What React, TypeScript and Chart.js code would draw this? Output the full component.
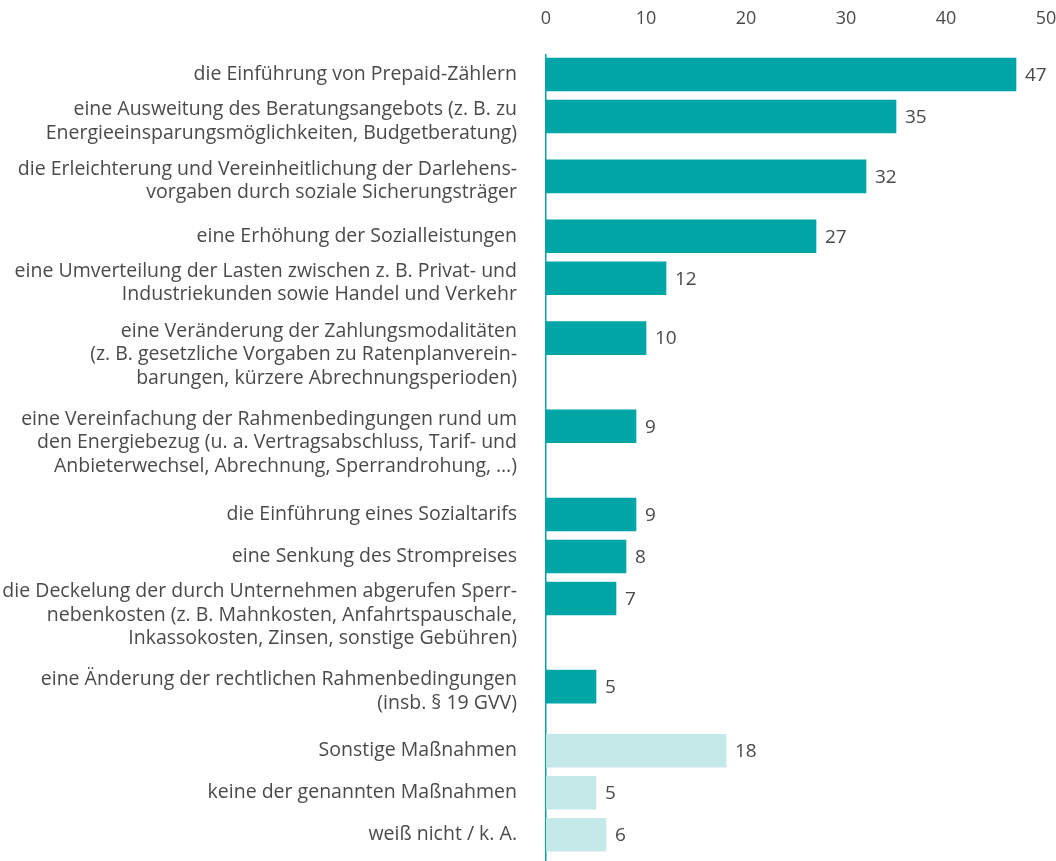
import React, { useEffect, useRef } from "react";
import { Chart, registerables } from "chart.js";

Chart.register(...registerables);

const categories: string[][] = [
  ["die Einführung von Prepaid-Zählern"],
  ["eine Ausweitung des Beratungsangebots (z. B. zu", "Energieeinsparungsmöglichkeiten, Budgetberatung)"],
  ["die Erleichterung und Vereinheitlichung der Darlehens-", "vorgaben durch soziale Sicherungsträger"],
  ["eine Erhöhung der Sozialleistungen"],
  ["eine Umverteilung der Lasten zwischen z. B. Privat- und", "Industriekunden sowie Handel und Verkehr"],
  ["eine Veränderung der Zahlungsmodalitäten", "(z. B. gesetzliche Vorgaben zu Ratenplanverein-", "barungen, kürzere Abrechnungsperioden)"],
  ["eine Vereinfachung der Rahmenbedingungen rund um", "den Energiebezug (u. a. Vertragsabschluss, Tarif- und", "Anbieterwechsel, Abrechnung, Sperrandrohung, …)"],
  ["die Einführung eines Sozialtarifs"],
  ["eine Senkung des Strompreises"],
  ["die Deckelung der durch Unternehmen abgerufen Sperr-", "nebenkosten (z. B. Mahnkosten, Anfahrtspauschale,", "Inkassokosten, Zinsen, sonstige Gebühren)"],
  ["eine Änderung der rechtlichen Rahmenbedingungen", "(insb. § 19 GVV)"],
  ["Sonstige Maßnahmen"],
  ["keine der genannten Maßnahmen"],
  ["weiß nicht / k. A."],
];

const values: number[] = [47, 35, 32, 27, 12, 10, 9, 9, 8, 7, 5, 18, 5, 6];

// group: 0 = concrete measures (dark), 1 = other answers (light)
const groups: number[] = [0, 0, 0, 0, 0, 0, 0, 0, 0, 0, 0, 1, 1, 1];

const xTicks: number[] = [0, 10, 20, 30, 40, 50];

const DARK = "#00a5a5";
const LIGHT = "#c5e8e9";
const TEXT = "#4a4a4a";
const FONT = "'Open Sans', sans-serif";

// row layout derived from label line counts (in y-scale units)
const rowWeight = (lines: number) => (lines === 1 ? 2 : lines === 2 ? 2.85 : 4.2);
const GROUP_GAP = 0.2;
const rowPos: number[] = [];
{
  let p = 0;
  categories.forEach((c, i) => {
    rowPos.push(p);
    p += rowWeight(c.length);
    if (i + 1 < groups.length && groups[i + 1] !== groups[i]) p += GROUP_GAP;
  });
}
const labelPos = rowPos.map((p, i) => {
  const l = categories[i].length;
  return l === 1 ? p : p + ((l - 1) * 11.75 - 7) / 21;
});

export default function App() {
  const ref = useRef<HTMLCanvasElement>(null);
  useEffect(() => {
    if (!ref.current) return;
    const valueLabels = {
      id: "valueLabels",
      afterDatasetsDraw(chart: any) {
        const ctx = chart.ctx;
        const meta = chart.getDatasetMeta(0);
        ctx.save();
        ctx.font = `19px ${FONT}`;
        ctx.fillStyle = TEXT;
        ctx.textAlign = "left";
        ctx.textBaseline = "middle";
        meta.data.forEach((bar: any, i: number) => {
          ctx.fillText(String(values[i]), bar.x + 9, bar.y + 1);
        });
        ctx.restore();
      },
    };
    const chart = new Chart(ref.current, {
      type: "bar",
      data: {
        datasets: [
          {
            data: values.map((v, i) => ({ x: v, y: rowPos[i] })),
            backgroundColor: groups.map((g) => (g === 0 ? DARK : LIGHT)),
            barThickness: 33,
            borderWidth: 0,
          },
        ],
      },
      options: {
        indexAxis: "y",
        animation: false,
        responsive: false,
        layout: { padding: { top: 8, right: 10, left: 0, bottom: 0 } },
        plugins: { legend: { display: false }, tooltip: { enabled: false } },
        scales: {
          x: {
            type: "linear",
            position: "top",
            min: 0,
            max: 50,
            grid: { display: false, drawTicks: false },
            border: { display: false },
            afterBuildTicks: (axis: any) => {
              axis.ticks = xTicks.map((v) => ({ value: v }));
            },
            afterFit: (axis: any) => {
              axis.height = 47;
              axis.paddingLeft = 0;
              axis.paddingRight = 0;
              axis.paddingTop = 0;
              axis.paddingBottom = 0;
            },
            ticks: { padding: 25, color: TEXT, font: { family: FONT, size: 18 } },
          },
          y: {
            type: "linear",
            reverse: true,
            offset: false,
            bounds: "data",
            min: -0.93,
            max: rowPos[rowPos.length - 1] + 1.25,
            grid: { display: false, drawTicks: false, offset: false },
            border: { display: true, color: DARK, width: 1.5 },
            afterBuildTicks: (axis: any) => {
              axis.ticks = labelPos.map((v) => ({ value: v }));
            },
            afterFit: (axis: any) => {
              axis.width = 546;
              axis.paddingLeft = 0;
              axis.paddingRight = 0;
              axis.paddingTop = 0;
              axis.paddingBottom = 0;
            },
            ticks: {
              autoSkip: false,
              padding: 29,
              color: TEXT,
              font: { family: FONT, size: 19.5, lineHeight: "23.5px" },
              callback: (_v: any, i: number) => categories[i],
            },
          },
        },
      },
      plugins: [valueLabels],
    });
    return () => chart.destroy();
  }, []);
  return (
    <div style={{ position: "absolute", left: 0, top: 0, width: 1056, height: 861, background: "#fff" }}>
      <canvas ref={ref} width={1056} height={861} style={{ display: "block" }} />
    </div>
  );
}
